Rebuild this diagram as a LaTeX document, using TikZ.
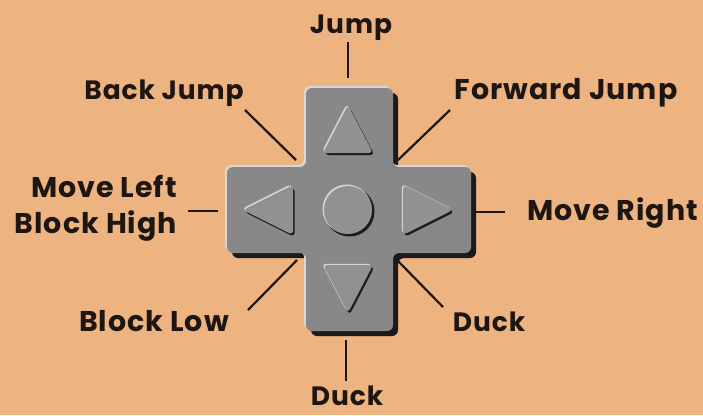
\documentclass[tikz,border=0pt]{standalone}
\usepackage{fontspec}
\newfontfamily\labfont{Poppins}[LetterSpace=3.5]
\definecolor{bg}{RGB}{237,179,128}
\definecolor{ink}{RGB}{30,22,18}
\definecolor{pad}{RGB}{136,136,136}
\definecolor{btn}{RGB}{145,145,145}
\definecolor{ltrim}{RGB}{215,215,215}
\definecolor{dkrim}{RGB}{28,26,26}
\tikzset{
  crosspath/.style={insert path={(306,88) -- (393,88) -- (393,167) -- (471,167) -- (471,253) -- (393,253) -- (393,331) -- (306,331) -- (306,253) -- (227,253) -- (227,167) -- (306,167) -- cycle}},
  lab/.style={font=\labfont\bfseries\fontsize{26.5}{30}\selectfont, text=ink, inner sep=0pt, anchor=base},
  big/.style={font=\labfont\bfseries\fontsize{28.5}{32}\selectfont},
  conn/.style={draw=ink, line width=2.2pt},
}
\newcommand\embtri[3]{%
  \fill[rounded corners=4pt, fill=dkrim, shift={(1.5,2)}] #1 -- #2 -- #3 -- cycle;
  \fill[rounded corners=4pt, fill=ltrim, shift={(-1.2,-1.2)}] #1 -- #2 -- #3 -- cycle;
  \fill[rounded corners=4pt, fill=btn] #1 -- #2 -- #3 -- cycle;}
\begin{document}
\begin{tikzpicture}[x=1pt,y=-1pt]
\fill[bg] (0,0) rectangle (703,415);
\useasboundingbox (0,0) rectangle (703,415);
% d-pad body
\begin{scope}[shift={(5,5)}]
  \fill[rounded corners=6pt, fill=dkrim, crosspath];
\end{scope}
\begin{scope}[shift={(-2,-2)}]
  \fill[rounded corners=6pt, fill=ltrim, crosspath];
\end{scope}
\fill[rounded corners=6pt, fill=pad, crosspath];
% buttons
\embtri{(348,105)}{(323,153)}{(373,153)}
\embtri{(243,210)}{(293,185)}{(293,235)}
\embtri{(453,210)}{(403,185)}{(403,235)}
\embtri{(348,313)}{(323,265)}{(373,265)}
\fill[dkrim] (349.5,211.5) circle (25);
\fill[ltrim] (347,209) circle (24.5);
\fill[btn] (348,210) circle (24);
% labels
\node[lab] (jump) at (351,33) {Jump};
\node[lab] (backjump) at (164,99) {Back Jump};
\node[lab, big] (fwdjump) at (566,99) {Forward Jump};
\node[lab, big, anchor=base east] (moveleft) at (177,197) {Move Left};
\node[lab, big, anchor=base east] (blockhigh) at (177,233) {Block High};
\node[lab, big, anchor=base west] (moveright) at (527,220) {Move Right};
\node[lab, big] (blocklow) at (154,331) {Block Low};
\node[lab] (duckr) at (489,331) {Duck};
\node[lab] (duckb) at (347,405) {Duck};
% connector ends
\coordinate (j1) at (348,42);   \coordinate (j2) at (348,78);
\coordinate (bj1) at (245,110); \coordinate (bj2) at (296,160);
\coordinate (fj1) at (450,110); \coordinate (fj2) at (398,160);
\coordinate (ml1) at (188,211); \coordinate (ml2) at (218,211);
\coordinate (mr1) at (475,212); \coordinate (mr2) at (505,212);
\coordinate (bl1) at (248,310); \coordinate (bl2) at (297,260);
\coordinate (dr1) at (443,307); \coordinate (dr2) at (397,260);
\coordinate (db1) at (346,381); \coordinate (db2) at (346,340);
\draw[conn] (j1) -- (j2);
\draw[conn] (bj1) -- (bj2);
\draw[conn] (fj1) -- (fj2);
\draw[conn] (ml1) -- (ml2);
\draw[conn] (mr1) -- (mr2);
\draw[conn] (bl1) -- (bl2);
\draw[conn] (dr1) -- (dr2);
\draw[conn] (db1) -- (db2);
\end{tikzpicture}
\end{document}
